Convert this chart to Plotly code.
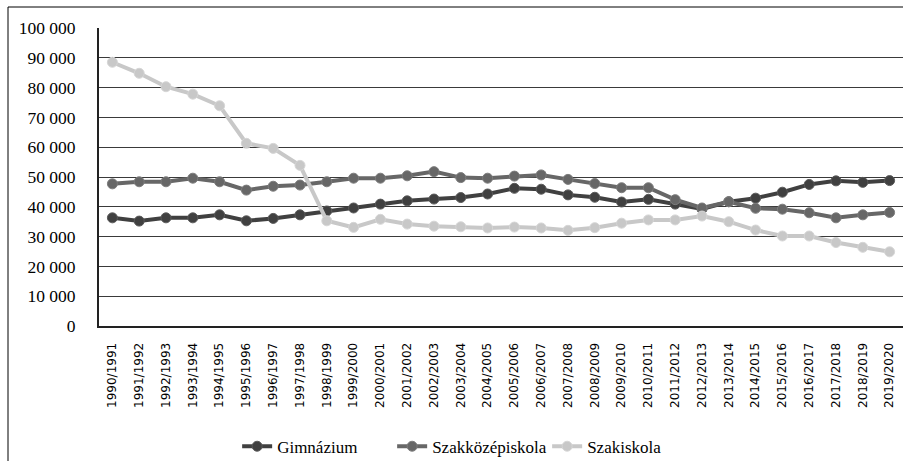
import plotly.graph_objects as go

years = [f"{y}/{y+1}" for y in range(1990, 2020)]

gimnazium = [36300, 35200, 36300, 36300, 37300, 35300, 36100, 37300, 38600, 39600,
             40900, 42000, 42600, 43100, 44300, 46200, 45900, 44000, 43200, 41600,
             42500, 40900, 39300, 41700, 42900, 44900, 47500, 48700, 48200, 48800]

szakkozep = [47700, 48400, 48400, 49600, 48400, 45600, 46900, 47300, 48400, 49600,
             49600, 50400, 51800, 49800, 49600, 50300, 50700, 49200, 47800, 46400,
             46400, 42400, 39600, 41700, 39500, 39200, 38000, 36300, 37300, 38100]

szakiskola = [88500, 84800, 80300, 77800, 73900, 61300, 59600, 53900, 35300, 33100,
              35800, 34200, 33500, 33300, 32900, 33200, 32900, 32100, 33000, 34500,
              35600, 35600, 36900, 35000, 32200, 30200, 30200, 28000, 26400, 24900]

series = [
    ("Gimnázium", gimnazium, "#404040", "#5a5a5a"),
    ("Szakközépiskola", szakkozep, "#676767", "#7d7d7d"),
    ("Szakiskola", szakiskola, "#c8c8c8", "#d6d6d6"),
]

SERIF = "Liberation Serif"

fig = go.Figure()
for name, vals, col, edge in series:
    fig.add_trace(go.Scatter(
        x=years, y=vals, name=name, mode="lines+markers",
        line=dict(color=col, width=4),
        marker=dict(color=col, size=10, line=dict(color=edge, width=1)),
    ))

L, T = 99, 28
W, H = 903, 461
PW = W - L
PH = 326 - T

fig.update_layout(
    width=W, height=H,
    margin=dict(l=L, r=0, t=T, b=H - 326, pad=0, autoexpand=False),
    paper_bgcolor="white", plot_bgcolor="white",
    separators=", ",
    showlegend=True,
    legend=dict(orientation="h", x=0.461, xanchor="center", y=-0.405, yanchor="middle",
                font=dict(family=SERIF, size=17, color="black"),
                itemwidth=30, entrywidth=110, entrywidthmode="pixels",
                bgcolor="rgba(0,0,0,0)"),
    xaxis=dict(
        type="category", tickangle=-90, automargin=False, range=[-0.5, 29.5],
        tickfont=dict(family="DejaVu Sans", size=12, color="black"),
        showgrid=False, showline=True, linecolor="#222", linewidth=2,
        ticks="", ticklabelstandoff=10, fixedrange=True,
    ),
    yaxis=dict(
        range=[0, 100000], dtick=10000, tickformat=",d", automargin=False,
        tickfont=dict(family=SERIF, size=17.5, color="black"),
        showgrid=True, gridcolor="#3a3a3a", gridwidth=1,
        showline=True, linecolor="#222", linewidth=2,
        zeroline=False, ticks="", ticklabelstandoff=18, fixedrange=True,
    ),
    shapes=[
        dict(type="line", xref="paper", yref="paper",
             x0=(8 - L) / PW, x1=(8 - L) / PW, y0=(326 - 7) / PH, y1=(326 - 470) / PH,
             line=dict(color="black", width=1)),
        dict(type="line", xref="paper", yref="paper",
             x0=(8 - L) / PW, x1=1.02, y0=(326 - 7) / PH, y1=(326 - 7) / PH,
             line=dict(color="black", width=1)),
    ],
)

fig.write_html("out.html", config={"displayModeBar": False},
               post_script="document.body.style.margin='0';document.body.style.overflow='hidden';")
